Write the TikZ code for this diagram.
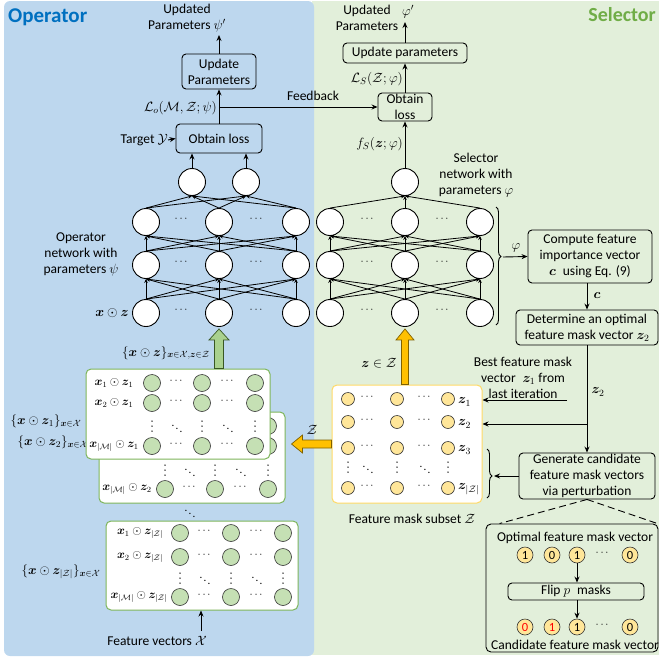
\RequirePackage{fix-cm}
\documentclass[tikz,border=0pt]{standalone}
\usepackage{amsmath,amssymb,bm}
\usepackage[no-math]{fontspec}
\setmainfont{Carlito}
\usetikzlibrary{arrows.meta,decorations.pathreplacing,calc}
\definecolor{opbg}{HTML}{BDD7EE}
\definecolor{selbg}{HTML}{E2EFDA}
\definecolor{opblue}{HTML}{0070C0}
\definecolor{selgreen}{HTML}{70AD47}
\definecolor{gfill}{HTML}{C5E0B4}
\definecolor{gborder}{HTML}{7DB55A}
\definecolor{yfill}{HTML}{FFE699}
\definecolor{yborder}{HTML}{FFD966}
\definecolor{orfill}{HTML}{FFC000}
\definecolor{ordraw}{HTML}{7F6000}
\definecolor{gafill}{HTML}{A9D18E}
\definecolor{gadraw}{HTML}{385723}
\newcommand{\vdotsat}[2]{\foreach \dd in {-5,0,5}{\fill (#1,#2+\dd) circle (0.75pt);}}
\begin{document}
\begin{tikzpicture}[x=1pt,y=-1pt,
  font=\fontsize{13.5}{16}\selectfont,
  lbl/.style={inner sep=0pt},
  box/.style={draw,line width=0.9pt,rounded corners=4pt,inner sep=1pt,align=center},
  nn/.style={circle,draw,line width=0.9pt,fill=white,minimum size=27pt,inner sep=0pt},
  net/.style={line width=0.8pt,-{Stealth[length=4pt,width=3.5pt]}},
  arr/.style={line width=0.9pt,-{Stealth[length=6pt,width=5pt]}},
  gc/.style={circle,draw=black!80,line width=0.6pt,fill=gfill,minimum size=17pt,inner sep=0pt},
  yc/.style={circle,draw=black!80,line width=0.6pt,fill=yfill,minimum size=13pt,inner sep=0pt},
  vc/.style={circle,draw=black!80,line width=0.6pt,fill=yfill,minimum size=16pt,inner sep=0pt,font=\fontsize{12.5}{12.5}\selectfont},
  gbox/.style={draw=gborder,line width=1pt,fill=white,rounded corners=5pt,inner sep=0pt},
  ml/.style={inner sep=0pt,font=\fontsize{12}{13}\selectfont},
  dt/.style={inner sep=0pt,font=\fontsize{11}{11}\selectfont},
  sl/.style={inner sep=0pt,font=\fontsize{13}{14}\selectfont},
  blk/.style={line width=0.7pt}
]
\useasboundingbox (0,0) rectangle (659,659);
% backgrounds
\fill[selbg] (312,1) rectangle (659,655);
\fill[opbg,rounded corners=6pt] (4,1) rectangle (314,656);
\node[lbl,anchor=west,text=opblue,font=\fontsize{21}{24}\selectfont\bfseries] (optitle) at (8,17) {Operator};
\node[lbl,anchor=east,text=selgreen,font=\fontsize{20}{24}\selectfont\bfseries] (seltitle) at (656,15) {Selector};

% ---------- operator network ----------
\foreach \n/\x in {a/146,b/219,c/296}{
  \node[nn] (oh2\n) at (\x,222) {};
  \node[nn] (oh1\n) at (\x,265) {};
  \node[nn] (oin\n) at (\x,313) {};
}
\node[nn] (oouta) at (192,182) {};
\node[nn] (ooutb) at (246,182) {};
\foreach \x in {182,257}{\foreach \y in {222,265,313}{
  \node[dt] (od\x-\y) at (\x,\y-3) {$\cdots$};
}}
\foreach \i in {a,b,c}{
  \foreach \j in {a,b,c}{
    \draw[net] (oin\i.north) -- (oh1\j.south);
    \draw[net] (oh1\i.north) -- (oh2\j.south);
  }
  \draw[net] (oh2\i.north) -- (oouta.south);
  \draw[net] (oh2\i.north) -- (ooutb.south);
}

% ---------- selector network ----------
\foreach \n/\x in {a/330,b/405,c/480}{
  \node[nn] (sh2\n) at (\x,222) {};
  \node[nn] (sh1\n) at (\x,265) {};
  \node[nn] (sin\n) at (\x,313) {};
}
\node[nn] (sout) at (405,182) {};
\foreach \x in {368,443}{\foreach \y in {222,265,313}{
  \node[dt] (sd\x-\y) at (\x,\y-3) {$\cdots$};
}}
\foreach \i in {a,b,c}{
  \foreach \j in {a,b,c}{
    \draw[net] (sin\i.north) -- (sh1\j.south);
    \draw[net] (sh1\i.north) -- (sh2\j.south);
  }
  \draw[net] (sh2\i.north) -- (sout.south);
}

% ---------- operator boxes ----------
\node[box,minimum width=86pt,minimum height=29pt] (oloss) at (219,138.5) {Obtain loss};
\node[box,minimum width=74pt,minimum height=35pt,inner sep=0pt] (oupd) at (219,71.5) {Update\\Parameters};
\draw[arr] (oouta.north) -- (oouta.north |- oloss.south);
\draw[arr] (ooutb.north) -- (ooutb.north |- oloss.south);
\draw[arr] (oloss.north) -- (oupd.south);
\coordinate (otop) at (219,35);
\draw[arr] (oupd.north) -- (otop);
\node[lbl,align=center] (oupdtxt) at (187,18) {Updated\\Parameters $\psi'$};
\node[lbl,anchor=east] (olab) at (217,108) {$\mathcal{L}_o(\mathcal{M},\mathcal{Z};\psi)$};
\node[lbl,anchor=east] (tgt) at (168,140) {Target $\mathcal{Y}$};
\draw[arr] (tgt.east) -- (oloss.west);

% ---------- selector boxes ----------
\node[box,minimum width=54pt,minimum height=28pt,inner sep=0pt] (sloss) at (405,107) {Obtain\\loss};
\node[box,minimum width=124pt,minimum height=20pt,inner sep=0pt] (supd) at (405,53) {Update parameters};
\draw[arr] (sout.north) -- (sloss.south);
\draw[arr] (sloss.north) -- (supd.south);
\coordinate (stop) at (405,22);
\draw[arr] (supd.north) -- (stop);
\node[lbl,align=center] (supdtxt) at (367,18) {Updated\\Parameters};
\node[lbl] (sphi) at (408,12) {$\varphi'$};
\node[lbl,anchor=east] (slab) at (403,79) {$\mathcal{L}_S(\mathcal{Z};\varphi)$};
\node[lbl,anchor=east] (fslab) at (403,144) {$f_S(\bm{z};\varphi)$};
\node[lbl,align=center] (selnet) at (476,175) {Selector\\network with\\parameters $\varphi$};

% feedback
\coordinate (fb) at (219,107);
\draw[arr] (fb) -- (sloss.west);
\node[lbl] (fbt) at (313,96) {Feedback};

% ---------- operator labels ----------
\node[lbl,align=center] (opnet) at (81,254) {Operator\\network with\\parameters $\psi$};
\node[lbl,anchor=east] (xz) at (129,313) {$\bm{x}\odot\bm{z}$};
\node[sl] (xzset) at (166,353) {$\{\bm{x}\odot\bm{z}\}_{\bm{x}\in\mathcal{X},\bm{z}\in\mathcal{Z}}$};

% ---------- right column ----------
\node[box,minimum width=124pt,minimum height=53pt,inner sep=0pt] (comp) at (590,256.5) {Compute feature\\importance vector\\$\bm{c}$\; using Eq. (9)};
\node[box,minimum width=142pt,minimum height=35pt,inner sep=0pt] (det) at (587,327.5) {Determine an optimal\\feature mask vector $\bm{z}_2$};
\draw[line width=0.9pt,decorate,decoration={brace,amplitude=5pt,aspect=0.42}] (496,207) -- (496,325);
\coordinate (btip) at (503,257);
\draw[arr] (btip) -- (comp.west);
\node[lbl] (philab) at (516,248) {$\varphi$};
\draw[arr] (det.north |- comp.south) -- (det.north);
\node[lbl] (clab) at (597,295) {$\bm{c}$};

\node[box,minimum width=136pt,minimum height=46pt,inner sep=0pt] (gen) at (587,476) {Generate candidate\\feature mask vectors\\via perturbation};

% ---------- yellow matrix ----------
\node[draw=yborder,line width=1pt,fill=white,rounded corners=5pt,minimum width=150pt,minimum height=118pt,inner sep=0pt] (ymat) at (407,444) {};
\foreach \r/\y in {1/399,2/422,3/448,4/488}{
  \foreach \c/\x in {1/348,2/397,3/448}{\node[yc] (y\r\c) at (\x,\y) {};}
  \node[dt] (yh\r a) at (368,\y-2) {$\cdots$};
  \node[dt] (yh\r b) at (425,\y-2) {$\cdots$};
}
\foreach \x in {348,397,448}{\vdotsat{\x}{467}}
\node[dt] (ydd1) at (368,467) {$\ddots$};
\node[dt] (ydd2) at (425,467) {$\ddots$};
\node[lbl,anchor=west] (zl1) at (458,402) {$\bm{z}_1$};
\node[lbl,anchor=west] (zl2) at (458,424) {$\bm{z}_2$};
\node[lbl,anchor=west] (zl3) at (458,450) {$\bm{z}_3$};
\node[lbl,anchor=west] (zl4) at (458,489) {$\bm{z}_{|\mathcal{Z}|}$};
\node[lbl] (fms) at (412,519) {Feature mask subset $\mathcal{Z}$};
\draw[line width=0.9pt,decorate,decoration={brace,amplitude=5pt,aspect=0.55}] (487,449) -- (487,498);
\coordinate (ybt) at (494,476);
\draw[arr] (gen.west) -- (ybt);

% best z1 / z2 arrows
\node[lbl,align=center] (best) at (523,378) {Best feature mask\\vector\; $\bm{z}_1$ from\\last iteration};
\coordinate (bestA) at (567,400);
\draw[arr] (bestA) -- (bestA -| ymat.east);
\draw[line width=0.9pt] (det.south) -- (det.south |- zl2);
\draw[arr] (det.south |- zl2) -- (zl2 -| ymat.east);
\draw[arr] (det.south |- zl2) -- (gen.north);
\node[lbl] (z2lab) at (598,392) {$\bm{z}_2$};

% orange arrows
\coordinate (oaB) at (sinb.south |- ymat.north);
\coordinate (oaT) at ($(sinb.south)+(0,2)$);
\filldraw[fill=orfill,draw=ordraw,blk] ($(oaB)+(-3.5,0)$) -- ($(oaT)+(-3.5,11)$) -- ($(oaT)+(-9,11)$) -- (oaT) -- ($(oaT)+(9,11)$) -- ($(oaT)+(3.5,11)$) -- ($(oaB)+(3.5,0)$) -- cycle;
\node[lbl,anchor=east] (zinz) at (397,363) {$\bm{z}\in\mathcal{Z}$};

% ---------- green stacks ----------
% stack 2 (behind)
\node[gbox,minimum width=186pt,minimum height=91pt] (st2) at (192,457.5) {};
\node[gc] (s2r1c3) at (268,426) {};
\node[gc] (s2r2c3) at (268,446) {};
\foreach \c/\x in {1/165,2/215,3/268}{\node[gc] (s2r4c\c) at (\x,489) {};
  \vdotsat{\x}{470}}
\foreach \c/\x in {1/190,2/241}{\node[dt] (s2d\c) at (\x,470) {$\ddots$};
  \node[dt] (s2h\c) at (\x,487) {$\cdots$};}
\node[ml] (s2l4) at (127,489) {$\bm{x}_{|\mathcal{M}|}\odot\bm{z}_2$};
\node[sl] (s2lab) at (53,442) {$\{\bm{x}\odot\bm{z}_2\}_{\bm{x}\in\mathcal{X}}$};

% stack 1 (front)
\node[gbox,minimum width=184pt,minimum height=90pt] (st1) at (178,414) {};
\foreach \r/\y in {1/383,2/403,4/446}{
  \foreach \c/\x in {1/152,2/202,3/255}{\node[gc] (s1r\r c\c) at (\x,\y) {};}
  \node[dt] (s1h\r a) at (177,\y-2) {$\cdots$};
  \node[dt] (s1h\r b) at (228,\y-2) {$\cdots$};
}
\foreach \x in {152,202,255}{\vdotsat{\x}{426}}
\node[dt] (s1d1) at (177,426) {$\ddots$};
\node[dt] (s1d2) at (228,426) {$\ddots$};
\node[ml] (s1l1) at (114,383) {$\bm{x}_1\odot\bm{z}_1$};
\node[ml] (s1l2) at (114,403) {$\bm{x}_2\odot\bm{z}_1$};
\node[ml] (s1l4) at (114,446) {$\bm{x}_{|\mathcal{M}|}\odot\bm{z}_1$};
\node[sl] (s1lab) at (46,421) {$\{\bm{x}\odot\bm{z}_1\}_{\bm{x}\in\mathcal{X}}$};

% stack 3
\node[dt] (stdd) at (190,511) {$\ddots$};
\node[gbox,minimum width=192pt,minimum height=89pt] (st3) at (202,565.5) {};
\foreach \r/\y in {1/533,2/557,4/597}{
  \foreach \c/\x in {1/180,2/231,3/283}{\node[gc] (s3r\r c\c) at (\x,\y) {};}
  \node[dt] (s3h\r a) at (205,\y-2) {$\cdots$};
  \node[dt] (s3h\r b) at (257,\y-2) {$\cdots$};
}
\foreach \x in {180,231,283}{\vdotsat{\x}{578}}
\node[dt] (s3d1) at (205,578) {$\ddots$};
\node[dt] (s3d2) at (257,578) {$\ddots$};
\node[ml] (s3l1) at (140,533) {$\bm{x}_1\odot\bm{z}_{|\mathcal{Z}|}$};
\node[ml] (s3l2) at (140,557) {$\bm{x}_2\odot\bm{z}_{|\mathcal{Z}|}$};
\node[ml] (s3l4) at (139,597) {$\bm{x}_{|\mathcal{M}|}\odot\bm{z}_{|\mathcal{Z}|}$};
\node[sl] (s3lab) at (61,572) {$\{\bm{x}\odot\bm{z}_{|\mathcal{Z}|}\}_{\bm{x}\in\mathcal{X}}$};

\node[lbl] (fv) at (157,641) {Feature vectors $\mathcal{X}$};
\coordinate (fvA) at (201,631);
\draw[arr] (fvA) -- (fvA |- st3.south);

% green arrow
\coordinate (gaB) at (oinb.south |- st1.north);
\coordinate (gaT) at ($(oinb.south)+(0,2)$);
\filldraw[fill=gafill,draw=gadraw,blk] ($(gaB)+(-4.5,0)$) -- ($(gaT)+(-4.5,11)$) -- ($(gaT)+(-10,11)$) -- (gaT) -- ($(gaT)+(10,11)$) -- ($(gaT)+(4.5,11)$) -- ($(gaB)+(4.5,0)$) -- cycle;

% orange left arrow
\coordinate (olB) at (ymat.west);
\coordinate (olT) at ($(st2.east |- ymat.west)+(6,0)$);
\filldraw[fill=orfill,draw=ordraw,blk] ($(olB)+(0,-4)$) -- ($(olT)+(11,-4)$) -- ($(olT)+(11,-9)$) -- (olT) -- ($(olT)+(11,9)$) -- ($(olT)+(11,4)$) -- ($(olB)+(0,4)$) -- cycle;
\node[lbl] (zarrlab) at (312,430) {$\mathcal{Z}$};

% ---------- candidate detail ----------
\node[draw,line width=0.9pt,rounded corners=5pt,minimum width=172pt,minimum height=128pt,inner sep=0pt] (cbox) at (572,588) {};
\draw[dashed,line width=0.9pt,dash pattern=on 7pt off 4pt] (gen.south) -- ($(cbox.north west)+(14,0)$);
\draw[dashed,line width=0.9pt,dash pattern=on 7pt off 4pt] (gen.south) -- ($(cbox.north east)+(-1,0)$);
\node[lbl] (optv) at (575,538) {Optimal feature mask vector};
\node[vc] (v1) at (525,555) {1};
\node[vc] (v2) at (552,555) {0};
\node[vc] (v3) at (577,555) {1};
\node[dt] (vd) at (603,553) {$\cdots$};
\node[vc] (v5) at (630,555) {0};
\node[box,minimum width=136pt,minimum height=17pt,inner sep=0pt] (flip) at (576,591.5) {Flip $p$\; masks};
\draw[arr] (v3.south) -- (v3.south |- flip.north);
\node[vc] (c1) at (525,627) {\textcolor{red}{0}};
\node[vc] (c2) at (552,627) {\textcolor{red}{1}};
\node[vc] (c3) at (577,627) {1};
\node[dt] (cd) at (603,625) {$\cdots$};
\node[vc] (c5) at (630,627) {0};
\draw[arr] (flip.south -| c3) -- (c3.north);
\node[lbl] (candv) at (575,645) {Candidate feature mask vector};
\end{tikzpicture}
\end{document}
